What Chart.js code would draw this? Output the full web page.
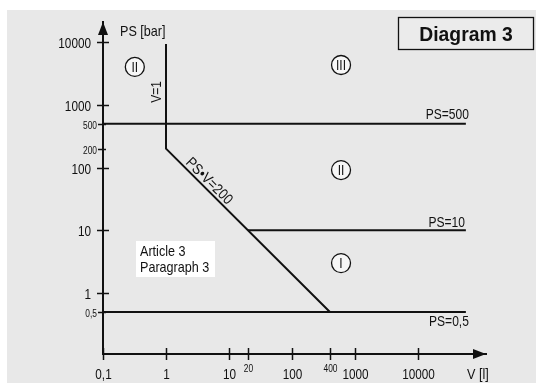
<!DOCTYPE html>
<html>
<head>
<meta charset="utf-8">
<script src="https://cdn.jsdelivr.net/npm/chart.js@4.4.1/dist/chart.umd.min.js"></script>
<style>
  html, body { margin: 0; padding: 0; background: #fff; }
  #wrap { width: 536px; height: 383px; }
</style>
</head>
<body>
<div id="wrap"><canvas id="diagram" width="536" height="383"></canvas></div>
<script>
// boundary: V=1 down to PS=200, then PS*V=200 down to PS=0,5
const boundaryV = [1, 1, 400];
const boundaryPS = [9300, 200, 0.5];

const ps500V = [0.1, 57500];
const ps500PS = [500, 500];
const ps10V = [20, 57500];
const ps10PS = [10, 10];
const ps05V = [0.1, 57500];
const ps05PS = [0.5, 0.5];

const yTickValues = [10000, 1000, 500, 200, 100, 10, 1, 0.5];
const yTickLabels = ['10000', '1000', '500', '200', '100', '10', '1', '0,5'];
const yTickSmall = [false, false, true, true, false, false, false, true];

const xTickValues = [0.1, 1, 10, 20, 100, 400, 1000, 10000];
const xTickLabels = ['0,1', '1', '10', '20', '100', '400', '1000', '10000'];
const xTickSmall = [false, false, false, true, false, true, false, false];

const regionNames = ['II', 'III', 'II', 'I'];
const regionV = [0.32, 600, 600, 600];
const regionPS = [4000, 4300, 91, 3];

const toPoints = (xs, ys) => xs.map((x, i) => ({ x: x, y: ys[i] }));

const SANS = "'Liberation Sans', Arial, sans-serif";
const INK = '#111';

// condensed text (no narrow font installed, so squeeze horizontally)
function text(ctx, str, x, y, size, align, opts = {}) {
    ctx.save();
    ctx.translate(x, y);
    if (opts.rotate) ctx.rotate(opts.rotate);
    ctx.scale(opts.squeeze || 0.84, 1);
    ctx.font = `${opts.bold ? 'bold ' : ''}${size}px ${SANS}`;
    ctx.textAlign = align;
    ctx.textBaseline = opts.baseline || 'alphabetic';
    ctx.fillText(str, 0, 0);
    ctx.restore();
}

const lineSet = (label, data) => ({
    label: label,
    data: data,
    showLine: true,
    borderColor: INK,
    borderWidth: 2,
    pointRadius: 0,
    tension: 0,
    fill: false,
});

const decorPlugin = {
    id: 'decor',
    beforeDraw(chart) {
        const ctx = chart.ctx;
        ctx.save();
        ctx.fillStyle = '#ffffff';
        ctx.fillRect(0, 0, chart.width, chart.height);
        ctx.fillStyle = '#e8e8e8';
        ctx.fillRect(7, 10, chart.width - 7, chart.height - 10);
        ctx.restore();
    },
    afterDraw(chart) {
        const ctx = chart.ctx;
        const xs = chart.scales.x;
        const ys = chart.scales.y;
        const area = chart.chartArea;
        ctx.save();
        ctx.strokeStyle = INK;
        ctx.fillStyle = INK;
        ctx.lineWidth = 1.5;

        // y ticks + labels
        yTickValues.forEach((v, i) => {
            const py = Math.round(ys.getPixelForValue(v)) + 0.5;
            const small = yTickSmall[i];
            ctx.beginPath();
            ctx.moveTo(area.left - (small ? 5 : 6), py);
            ctx.lineTo(area.left + (small ? 3 : 6), py);
            ctx.stroke();
            text(ctx, yTickLabels[i], area.left - (small ? 6 : 12), py + (small ? 4 : 5),
                small ? 10 : 14, 'right');
        });

        // x ticks + labels
        xTickValues.forEach((v, i) => {
            const px = Math.round(xs.getPixelForValue(v)) + 0.5;
            const small = xTickSmall[i];
            ctx.beginPath();
            ctx.moveTo(px, area.bottom - 6);
            ctx.lineTo(px, area.bottom + 6);
            ctx.stroke();
            text(ctx, xTickLabels[i], px, area.bottom + (small ? 18 : 25), small ? 10 : 14, 'center');
        });

        // arrows
        ctx.beginPath();
        ctx.moveTo(area.left, area.top);
        ctx.lineTo(area.left - 5, area.top + 13);
        ctx.lineTo(area.left + 5, area.top + 13);
        ctx.closePath();
        ctx.fill();
        ctx.beginPath();
        ctx.moveTo(area.right, area.bottom);
        ctx.lineTo(area.right - 13, area.bottom - 5);
        ctx.lineTo(area.right - 13, area.bottom + 5);
        ctx.closePath();
        ctx.fill();

        // axis titles
        text(ctx, 'PS [bar]', area.left + 17, area.top + 14, 15, 'left');
        text(ctx, 'V [l]', area.right - 19, area.bottom + 25, 15, 'left');

        // limit line labels
        const endX = xs.getPixelForValue(ps500V[1]) + 3;
        text(ctx, 'PS=500', endX, ys.getPixelForValue(500) - 5, 14, 'right', { squeeze: 0.86 });
        text(ctx, 'PS=10', endX - 4, ys.getPixelForValue(10) - 3, 14, 'right', { squeeze: 0.86 });
        text(ctx, 'PS=0,5', endX, ys.getPixelForValue(0.5) + 14, 14, 'right', { squeeze: 0.86 });

        // V=1 (vertical)
        text(ctx, 'V=1', xs.getPixelForValue(1) - 5, ys.getPixelForValue(1600), 14, 'center',
            { rotate: -Math.PI / 2, squeeze: 0.86 });

        // PS*V=200 (along diagonal)
        const ax = xs.getPixelForValue(1), ay = ys.getPixelForValue(200);
        const bx = xs.getPixelForValue(400), by = ys.getPixelForValue(0.5);
        const ang = Math.atan2(by - ay, bx - ax);
        const mx = xs.getPixelForValue(4), my = ys.getPixelForValue(50);
        text(ctx, 'PS\u2022V=200', mx + 3 * Math.sin(ang), my - 3 * Math.cos(ang), 15, 'center',
            { rotate: ang, squeeze: 0.86 });

        // region circles
        regionNames.forEach((name, i) => {
            const cx = xs.getPixelForValue(regionV[i]);
            const cy = ys.getPixelForValue(regionPS[i]);
            ctx.beginPath();
            ctx.arc(cx, cy, 9.5, 0, Math.PI * 2);
            ctx.fillStyle = '#f7f7f7';
            ctx.fill();
            ctx.lineWidth = 1.3;
            ctx.stroke();
            ctx.fillStyle = INK;
            text(ctx, name, cx, cy + 1, 15, 'center', { baseline: 'middle', squeeze: 0.8 });
        });

        // Article 3 box
        ctx.fillStyle = '#ffffff';
        ctx.fillRect(136, 241, 79, 36);
        ctx.fillStyle = INK;
        text(ctx, 'Article 3', 140, 256, 15, 'left');
        text(ctx, 'Paragraph 3', 140, 272, 15, 'left');

        // Diagram 3 box
        ctx.fillStyle = '#ebebeb';
        ctx.fillRect(398.5, 17.5, 135, 32);
        ctx.lineWidth = 1.3;
        ctx.strokeRect(398.5, 17.5, 135, 32);
        ctx.fillStyle = INK;
        text(ctx, 'Diagram 3', 466, 41, 21, 'center', { bold: true, squeeze: 0.92 });

        ctx.restore();
    }
};

new Chart(document.getElementById('diagram'), {
    type: 'scatter',
    data: {
        datasets: [
            lineSet('boundary', toPoints(boundaryV, boundaryPS)),
            lineSet('PS=500', toPoints(ps500V, ps500PS)),
            lineSet('PS=10', toPoints(ps10V, ps10PS)),
            lineSet('PS=0,5', toPoints(ps05V, ps05PS)),
        ]
    },
    options: {
        responsive: false,
        devicePixelRatio: 1,
        animation: false,
        layout: { padding: { top: 22, left: 0, right: 50, bottom: 0 } },
        plugins: {
            legend: { display: false },
            tooltip: { enabled: false }
        },
        scales: {
            x: {
                type: 'logarithmic',
                min: 0.1,
                max: 120000,
                grid: { display: false },
                ticks: { display: false },
                border: { display: true, color: INK, width: 2 },
                afterFit: (scale) => { scale.height = 29; }
            },
            y: {
                type: 'logarithmic',
                min: 0.107,
                max: 20800,
                grid: { display: false },
                ticks: { display: false },
                border: { display: true, color: INK, width: 2 },
                afterFit: (scale) => { scale.width = 103; }
            }
        }
    },
    plugins: [decorPlugin]
});
</script>
</body>
</html>
